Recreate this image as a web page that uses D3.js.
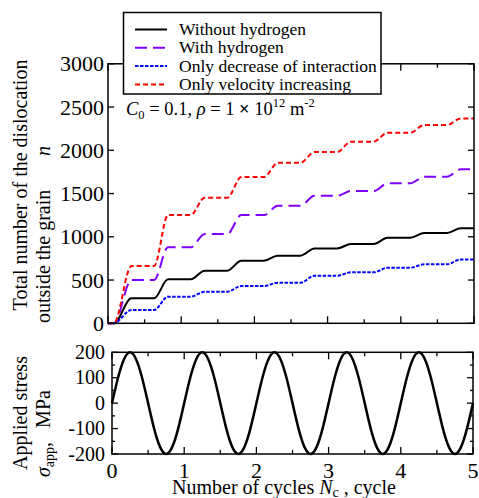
<!DOCTYPE html>
<html><head><meta charset="utf-8">
<script src="https://cdn.jsdelivr.net/npm/d3@7"></script>
<style>
html,body{margin:0;padding:0;background:#fff;}
svg{display:block;}
text{font-family:"Liberation Serif","Times New Roman",serif;fill:#000;}
</style></head>
<body><svg id="c" width="479" height="498"></svg>
<script>
// ---- data ----
const cycles = [0, 0.08, 0.32, 0.63, 0.82, 1.13, 1.32, 1.63, 1.82, 2.13, 2.32, 2.63, 2.82, 3.13, 3.32, 3.63, 3.82, 4.13, 4.32, 4.63, 4.82, 5.0];
const withoutHydrogen = [0, 0, 289, 289, 508, 508, 608, 608, 724, 724, 782, 782, 865, 865, 917, 917, 990, 990, 1045, 1045, 1098, 1098];
const withHydrogen = [0, 0, 500, 500, 878, 878, 1032, 1032, 1251, 1251, 1359, 1359, 1475, 1475, 1529, 1529, 1618, 1618, 1694, 1694, 1780, 1780];
const onlyInteraction = [0, 0, 154, 154, 308, 308, 365, 365, 431, 431, 469, 469, 550, 550, 589, 589, 643, 643, 682, 682, 738, 738];
const onlyVelocity = [0, 0, 662, 662, 1251, 1251, 1452, 1452, 1690, 1690, 1856, 1856, 1980, 1980, 2100, 2100, 2203, 2203, 2292, 2292, 2369, 2369];
const seriesNames = ["Without hydrogen", "With hydrogen", "Only decrease of interaction", "Only velocity increasing"];

const stressCycles = [0,0.0833,0.1667,0.25,0.3333,0.4167,0.5,0.5833,0.6667,0.75,0.8333,0.9167,
 1,1.0833,1.1667,1.25,1.3333,1.4167,1.5,1.5833,1.6667,1.75,1.8333,1.9167,
 2,2.0833,2.1667,2.25,2.3333,2.4167,2.5,2.5833,2.6667,2.75,2.8333,2.9167,
 3,3.0833,3.1667,3.25,3.3333,3.4167,3.5,3.5833,3.6667,3.75,3.8333,3.9167,
 4,4.0833,4.1667,4.25,4.3333,4.4167,4.5,4.5833,4.6667,4.75,4.8333,4.9167,5];
const stress = [0,100,173,200,173,100,0,-100,-173,-200,-173,-100,
 0,100,173,200,173,100,0,-100,-173,-200,-173,-100,
 0,100,173,200,173,100,0,-100,-173,-200,-173,-100,
 0,100,173,200,173,100,0,-100,-173,-200,-173,-100,
 0,100,173,200,173,100,0,-100,-173,-200,-173,-100,0];

const topYTicks = [0, 500, 1000, 1500, 2000, 2500, 3000];
const stressTicks = [-200, -100, 0, 100, 200];
const cycleTicks = [0, 1, 2, 3, 4, 5];

// ---- drawing ----
const svg = d3.select("#c");

const xTop = d3.scaleLinear().domain([0,5]).range([108,474]);
const yTop = d3.scaleLinear().domain([0,3000]).range([323.3,63.8]);
const xBot = d3.scaleLinear().domain([0,5]).range([112,473]);
const yBot = d3.scaleLinear().domain([-200,200]).range([454,352.3]);

const styles = [
  {color:"#000000", dash:null, w:2},
  {color:"#7f00ff", dash:"12,6", w:2},
  {color:"#0000ff", dash:"3.5,1.5", w:2},
  {color:"#ff0000", dash:"5,3", w:2}
];
const series = [withoutHydrogen, withHydrogen, onlyInteraction, onlyVelocity];

// top plot lines
const lineTop = d3.line().x(d=>xTop(d[0])).y(d=>yTop(d[1])).curve(d3.curveMonotoneX);
series.forEach((s,i)=>{
  svg.append("path").datum(cycles.map((c,j)=>[c,s[j]]))
    .attr("d",lineTop).attr("fill","none")
    .attr("stroke",styles[i].color).attr("stroke-width",styles[i].w)
    .attr("stroke-dasharray",styles[i].dash);
});

function frame(x,y){
  const [x0,x1]=x.range(), [y0,y1]=y.range();
  svg.append("rect").attr("x",x0).attr("y",y1).attr("width",x1-x0).attr("height",y0-y1)
    .attr("fill","none").attr("stroke","#000").attr("stroke-width",1.5);
}
frame(xTop,yTop);

function xTicks(x,y,vals,len){
  const [y0,y1]=y.range();
  vals.forEach(v=>{
    svg.append("line").attr("x1",x(v)).attr("x2",x(v)).attr("y1",y0).attr("y2",y0-len).attr("stroke","#000").attr("stroke-width",1.3);
    svg.append("line").attr("x1",x(v)).attr("x2",x(v)).attr("y1",y1).attr("y2",y1+len).attr("stroke","#000").attr("stroke-width",1.3);
  });
}
function yTicks(x,y,vals,len){
  const [x0,x1]=x.range();
  vals.forEach(v=>{
    svg.append("line").attr("x1",x0).attr("x2",x0+len).attr("y1",y(v)).attr("y2",y(v)).attr("stroke","#000").attr("stroke-width",1.3);
    svg.append("line").attr("x1",x1).attr("x2",x1-len).attr("y1",y(v)).attr("y2",y(v)).attr("stroke","#000").attr("stroke-width",1.3);
  });
}
const halfTicks = d3.range(0.5,5,1);
xTicks(xTop,yTop,cycleTicks,7);
xTicks(xTop,yTop,halfTicks,4);
yTicks(xTop,yTop,topYTicks,6);

svg.append("g").selectAll("text").data(topYTicks).join("text")
  .attr("x",104).attr("y",d=>yTop(d)+7.5).attr("text-anchor","end")
  .attr("font-size",22).text(d=>d);

// bottom plot
const lineBot = d3.line().x(d=>xBot(d[0])).y(d=>yBot(d[1])).curve(d3.curveNatural);
svg.append("path").datum(stressCycles.map((c,j)=>[c,stress[j]]))
  .attr("d",lineBot).attr("fill","none").attr("stroke","#000").attr("stroke-width",2.5);
frame(xBot,yBot);
xTicks(xBot,yBot,cycleTicks,7);
xTicks(xBot,yBot,halfTicks,4);
yTicks(xBot,yBot,stressTicks,6);
yTicks(xBot,yBot,[-150,-50,50,150],3);

svg.append("g").selectAll("text").data(stressTicks).join("text")
  .attr("x",105).attr("y",d=>yBot(d)+6.5).attr("text-anchor","end")
  .attr("font-size",20).text(d=>d);
svg.append("g").selectAll("text").data(cycleTicks).join("text")
  .attr("x",d=>xBot(d)).attr("y",478).attr("text-anchor","middle")
  .attr("font-size",22).text(d=>d);

// axis titles
svg.append("text").attr("transform","translate(27,185) rotate(-90)")
  .attr("text-anchor","middle").attr("font-size",20).text("Total number of the dislocation");
svg.append("text").attr("transform","translate(50,323) rotate(-90)")
  .attr("text-anchor","start").attr("font-size",20).text("outside the grain");
svg.append("text").attr("transform","translate(50,151) rotate(-90)")
  .attr("text-anchor","middle").attr("font-size",20).attr("font-style","italic").text("n");

svg.append("text").attr("transform","translate(27,413) rotate(-90)")
  .attr("text-anchor","middle").attr("font-size",20).text("Applied stress");
const t2 = svg.append("text").attr("transform","translate(50,477) rotate(-90)")
  .attr("text-anchor","start").attr("font-size",20);
t2.append("tspan").attr("font-style","italic").text("σ");
t2.append("tspan").attr("font-size",14).attr("dy",4).text("app");
t2.append("tspan").attr("dy",-4).text(",");
t2.append("tspan").attr("dx",14).text("MPa");

const xt = svg.append("text").attr("x",172).attr("y",494).attr("font-size",20);
xt.append("tspan").text("Number of cycles ");
xt.append("tspan").attr("font-style","italic").text("N");
xt.append("tspan").attr("font-size",14).attr("dy",3).text("c");
xt.append("tspan").attr("dy",-3).text(" , cycle");

// annotation
const an = svg.append("text").attr("x",126).attr("y",115).attr("font-size",18.5);
an.append("tspan").attr("font-style","italic").text("C");
an.append("tspan").attr("font-size",12.5).attr("dy",4).text("0");
an.append("tspan").attr("dy",-4).text(" = 0.1, ");
an.append("tspan").attr("font-style","italic").text("ρ");
an.append("tspan").text(" = 1 ");
an.append("tspan").attr("font-weight","bold").text("×");
an.append("tspan").text(" 10");
an.append("tspan").attr("font-size",12.5).attr("dy",-8).text("12");
an.append("tspan").attr("dy",8).text(" m");
an.append("tspan").attr("font-size",12.5).attr("dy",-8).text("-2");

// legend
svg.append("rect").attr("x",123.5).attr("y",12.5).attr("width",257.5).attr("height",81.5)
  .attr("fill","#fff").attr("stroke","#000").attr("stroke-width",1.5);
seriesNames.forEach((n,i)=>{
  const yy = 29.5 + i*18.3;
  svg.append("line").attr("x1",135).attr("x2",167).attr("y1",yy).attr("y2",yy)
    .attr("stroke",styles[i].color).attr("stroke-width",2).attr("stroke-dasharray",styles[i].dash);
  svg.append("text").attr("x",179).attr("y",yy+5.5).attr("font-size",17.5).text(n);
});
</script></body></html>
